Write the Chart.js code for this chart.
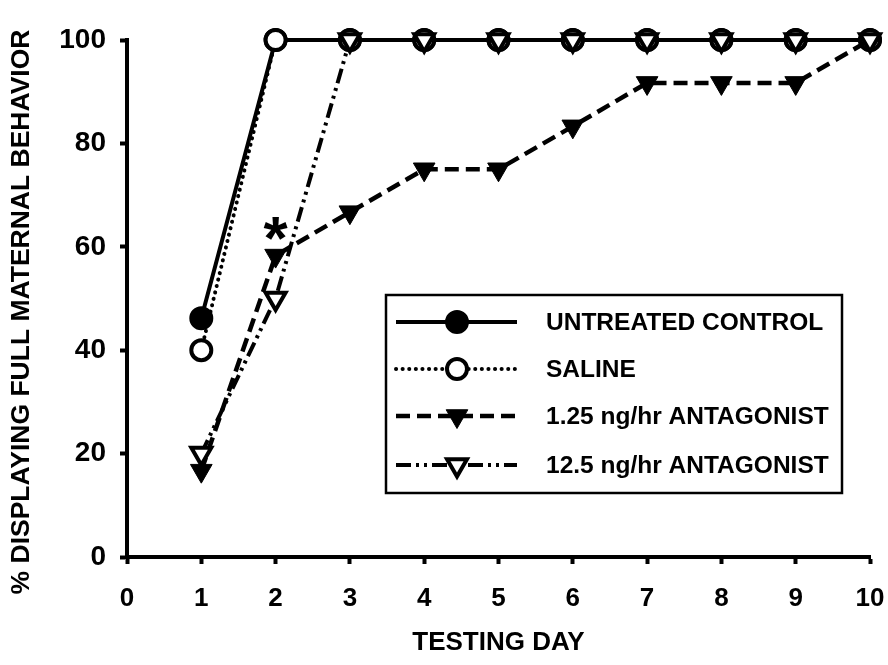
<!DOCTYPE html>
<html>
<head>
<meta charset="utf-8">
<script src="https://cdn.jsdelivr.net/npm/chart.js@4.4.1/dist/chart.umd.min.js"></script>
<style>
  html, body { margin: 0; padding: 0; background: #fff; }
  #box { width: 888px; height: 665px; }
</style>
</head>
<body>
<div id="box"><canvas id="myChart" width="888" height="665"></canvas></div>
<script>
// giorni e valori
var days = [1, 2, 3, 4, 5, 6, 7, 8, 9, 10];
var untreated = [46.2, 100, 100, 100, 100, 100, 100, 100, 100, 100];
var saline = [40, 100, 100, 100, 100, 100, 100, 100, 100, 100];
var lowDose = [16.7, 58.3, 66.7, 75, 75, 83.3, 91.7, 91.7, 91.7, 100];
var highDose = [20, 50, 100, 100, 100, 100, 100, 100, 100, 100];
var xTicks = [0, 1, 2, 3, 4, 5, 6, 7, 8, 9, 10];
var yTicks = [0, 20, 40, 60, 80, 100];
var seriesNames = ['UNTREATED CONTROL', 'SALINE', '1.25 ng/hr ANTAGONIST', '12.5 ng/hr ANTAGONIST'];
var yTitle = '% DISPLAYING FULL MATERNAL BEHAVIOR';

var FONT = "'Liberation Sans', Arial, Helvetica, sans-serif";

function pts(values) {  // coppie x,y per lo scatter
    return days.map(function(d, i) { return { x: d, y: values[i] }; });
}

// titolo asse y ruotato
var yTitlePlugin = {
    id: 'yTitlePlugin',
    afterDraw: function(chart) {
        var ctx = chart.ctx;
        ctx.save();
        ctx.translate(22, 312);
        ctx.rotate(-Math.PI / 2);
        ctx.fillStyle = '#000';
        ctx.font = 'bold 26.5px ' + FONT;
        ctx.textAlign = 'center';
        ctx.textBaseline = 'middle';
        ctx.fillText(yTitle, 0, 0);
        ctx.restore();
    }
};

// legenda disegnata a mano (linea + simbolo al centro)
var legendBox = {
    id: 'legendBox',
    afterDraw: function(chart) {
        var ctx = chart.ctx;
        var left = 386, top = 295, right = 842, bottom = 493;
        ctx.save();
        ctx.strokeStyle = '#000';
        ctx.lineWidth = 2.5;
        ctx.strokeRect(left, top, right - left, bottom - top);
        var rows = [322, 369, 416, 465];
        chart.data.datasets.forEach(function(ds, i) {
            var y = rows[i];
            ctx.setLineDash(ds.borderDash || []);
            ctx.lineCap = ds.borderCapStyle || 'butt';
            ctx.lineWidth = ds.borderWidth;
            ctx.strokeStyle = '#000';
            ctx.beginPath();
            ctx.moveTo(396, y);
            ctx.lineTo(517, y);
            ctx.stroke();
            ctx.setLineDash([]);
            ctx.lineCap = 'butt';
            ctx.fillStyle = ds.pointBackgroundColor;
            ctx.strokeStyle = '#000';
            ctx.lineWidth = ds.pointBorderWidth;
            Chart.helpers.drawPoint(ctx, {
                pointStyle: ds.pointStyle,
                radius: ds.pointRadius,
                rotation: ds.pointRotation || 0,
                borderWidth: ds.pointBorderWidth
            }, 457, y);
            ctx.fillStyle = '#000';
            ctx.font = 'bold 24.5px ' + FONT;
            ctx.textBaseline = 'middle';
            ctx.textAlign = 'left';
            ctx.fillText(ds.label, 546, y + 1);
        });
        ctx.restore();
    }
};

// asterisco sopra il giorno 2
var starMark = {
    id: 'starMark',
    afterDatasetsDraw: function(chart) {
        var ctx = chart.ctx;
        var x = chart.scales.x.getPixelForValue(2.0);
        var y = chart.scales.y.getPixelForValue(63.5);
        ctx.save();
        ctx.fillStyle = '#000';
        ctx.font = 'bold 62px ' + FONT;
        ctx.textAlign = 'center';
        ctx.textBaseline = 'alphabetic';
        ctx.fillText('*', x, y + 30);
        ctx.restore();
    }
};

var ctx = document.getElementById('myChart').getContext('2d');
var chart = new Chart(ctx, {
    type: 'line',
    data: {
        datasets: [
            {
                label: seriesNames[0],
                data: pts(untreated),
                borderColor: '#000',
                borderWidth: 4,
                pointStyle: 'circle',
                pointRadius: 11,
                pointBorderWidth: 2,
                pointBackgroundColor: '#000',
                pointBorderColor: '#000',
                order: 3,
                clip: false
            },
            {
                label: seriesNames[1],
                data: pts(saline),
                borderColor: '#000',
                borderWidth: 4,
                borderDash: [0.1, 6.5],
                borderCapStyle: 'round',
                pointStyle: 'circle',
                pointRadius: 10,
                pointBorderWidth: 4,
                pointBackgroundColor: '#fff',
                pointBorderColor: '#000',
                order: 2,
                clip: false
            },
            {
                label: seriesNames[2],
                data: pts(lowDose),
                borderColor: '#000',
                borderWidth: 4.5,
                borderDash: [14, 7],
                pointStyle: 'triangle',
                pointRotation: 180,
                pointRadius: 12.5,
                pointBorderWidth: 1,
                pointBackgroundColor: '#000',
                pointBorderColor: '#000',
                order: 1,
                clip: false
            },
            {
                label: seriesNames[3],
                data: pts(highDose),
                borderColor: '#000',
                borderWidth: 4,
                borderDash: [15, 5, 3, 5, 3, 5],
                pointStyle: 'triangle',
                pointRotation: 180,
                pointRadius: 11.5,
                pointBorderWidth: 4,
                pointBackgroundColor: '#fff',
                pointBorderColor: '#000',
                order: 0,
                clip: false
            }
        ]
    },
    options: {
        responsive: false,
        animation: false,
        events: [],
        layout: { padding: { top: 40, right: 18, left: 0, bottom: 0 } },
        plugins: {
            legend: { display: false },
            tooltip: { enabled: false }
        },
        scales: {
            x: {
                type: 'linear',
                min: 0,
                max: 10,
                afterBuildTicks: function(s) { s.ticks = xTicks.map(function(v) { return { value: v }; }); },
                afterFit: function(s) { s.height = 108; s.paddingLeft = 0; s.paddingRight = 0; },
                border: { display: true, color: '#000', width: 4 },
                grid: { drawOnChartArea: false, drawTicks: true, tickLength: 7, tickWidth: 4, tickColor: '#000' },
                ticks: { color: '#000', padding: 19, font: { family: FONT, size: 26, weight: 'bold' }, maxRotation: 0 },
                title: { display: true, text: 'TESTING DAY', color: '#000', padding: { top: 0, bottom: 7 }, font: { family: FONT, size: 26, weight: 'bold' } }
            },
            y: {
                type: 'linear',
                min: 0,
                max: 100,
                afterBuildTicks: function(s) { s.ticks = yTicks.map(function(v) { return { value: v }; }); },
                afterFit: function(s) { s.width = 127; s.paddingTop = 0; s.paddingBottom = 0; },
                border: { display: true, color: '#000', width: 4 },
                grid: { drawOnChartArea: false, drawTicks: true, tickLength: 7, tickWidth: 4, tickColor: '#000' },
                ticks: { color: '#000', padding: 14, font: { family: FONT, size: 28, weight: 'bold' } },
                title: { display: false }
            }
        }
    },
    plugins: [starMark, legendBox, yTitlePlugin]
});
</script>
</body>
</html>
